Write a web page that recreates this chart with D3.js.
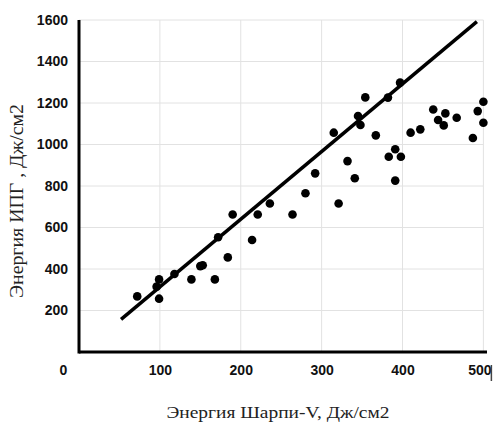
<!DOCTYPE html>
<html>
<head>
<meta charset="utf-8">
<script src="https://cdn.jsdelivr.net/npm/d3@7"></script>
<style>
  body { margin: 0; background: #fff; }
  .tick text { font-family: "Liberation Sans", Arial, sans-serif; font-weight: bold; font-size: 14px; fill: #111; }
  .title { font-family: "Liberation Serif", "Times New Roman", serif; fill: #222; }
</style>
</head>
<body>
<svg id="chart" width="494" height="427"></svg>
<script>
// Энергия Шарпи-V (x) и Энергия ИПГ (y)
const charpy = [72, 99, 96, 99, 118, 139, 150, 153, 168, 172, 184, 190, 214, 221, 236, 264, 280, 292,
    315, 321, 332, 341, 345, 348, 354, 367, 382, 397, 383, 391, 398, 391, 410, 422, 438, 444, 453, 451,
    467, 487, 493, 500, 500]
const ipg = [268, 350, 315, 257, 376, 350, 414, 418, 350, 553, 456, 663, 540, 663, 716, 663, 765, 861,
    1057, 716, 920, 837, 1137, 1094, 1227, 1044, 1226, 1298, 941, 977, 941, 826, 1057, 1073, 1169, 1118, 1150, 1092,
    1129, 1031, 1161, 1206, 1105]

// линия регрессии
const fitX = [52, 492]
const fitY = [157, 1592]

const xTicks = [0, 100, 200, 300, 400, 500]
const yTicks = [200, 400, 600, 800, 1000, 1200, 1400, 1600]

let margin = {
    top: 20,
    left: 79,
    right: 9,
    bottom: 75
};

let svg = d3.select("#chart");
let plotWidth = 494 - margin.left - margin.right;
let plotHeight = 427 - margin.top - margin.bottom;

let xScale = d3.scaleLinear()
    .domain([0, 502])
    .range([0, plotWidth]);

let yScale = d3.scaleLinear()
    .domain([0, 1600])
    .range([plotHeight, 0]);

let plot = svg.append("g")
    .attr("transform", "translate(" + margin.left + "," + margin.top + ")");

// сетка
plot.append("g")
    .selectAll("line")
    .data(yTicks)
    .enter().append("line")
    .attr("x1", 0)
    .attr("x2", xScale(500))
    .attr("y1", d => yScale(d))
    .attr("y2", d => yScale(d))
    .attr("stroke", "#e2e2e2");

plot.append("g")
    .selectAll("line")
    .data(xTicks.slice(1))
    .enter().append("line")
    .attr("x1", d => xScale(d))
    .attr("x2", d => xScale(d))
    .attr("y1", 0)
    .attr("y2", plotHeight)
    .attr("stroke", "#e2e2e2");

// оси
let xAxis = d3.axisBottom(xScale).tickValues(xTicks).tickSize(0).tickPadding(13).tickFormat(d3.format("d"));
let yAxis = d3.axisLeft(yScale).tickValues(yTicks).tickSize(0).tickPadding(11).tickFormat(d3.format("d"));

let xGroup = plot.append("g")
    .attr("transform", "translate(0," + plotHeight + ")")
    .call(xAxis);
xGroup.select(".domain").remove();
xGroup.selectAll(".tick text")
    .attr("dx", d => d === 0 ? -16 : (d === 500 ? -4 : 0));

let yGroup = plot.append("g").call(yAxis);
yGroup.select(".domain").remove();

plot.append("line")
    .attr("x1", 0).attr("x2", 0)
    .attr("y1", 0).attr("y2", plotHeight + 1.5)
    .attr("stroke", "#000").attr("stroke-width", 3);

plot.append("line")
    .attr("x1", 0).attr("x2", xScale(502) + 2)
    .attr("y1", plotHeight).attr("y2", plotHeight)
    .attr("stroke", "#000").attr("stroke-width", 3);

// маленькая черта после 500
plot.append("line")
    .attr("x1", xScale(500) + 8).attr("x2", xScale(500) + 8)
    .attr("y1", plotHeight + 13).attr("y2", plotHeight + 29)
    .attr("stroke", "#444").attr("stroke-width", 1.5);

// точки
plot.append("g")
    .selectAll("circle")
    .data(charpy)
    .enter().append("circle")
    .attr("cx", d => xScale(d))
    .attr("cy", (d, i) => yScale(ipg[i]))
    .attr("r", 4.3)
    .attr("fill", "#000");

// линия тренда
let line = d3.line()
    .x(d => xScale(d[0]))
    .y(d => yScale(d[1]));

plot.append("path")
    .datum(fitX.map((x, i) => [x, fitY[i]]))
    .attr("d", line)
    .attr("fill", "none")
    .attr("stroke", "#000")
    .attr("stroke-width", 3.5);

// подписи осей
svg.append("text")
    .attr("class", "title")
    .attr("x", 278)
    .attr("y", 418)
    .attr("text-anchor", "middle")
    .attr("font-size", 17)
    .attr("textLength", 223)
    .attr("lengthAdjust", "spacingAndGlyphs")
    .text("Энергия Шарпи-V, Дж/см2");

svg.append("text")
    .attr("class", "title")
    .attr("transform", "translate(23,201) rotate(-90)")
    .attr("text-anchor", "middle")
    .attr("font-size", 18)
    .attr("textLength", 194)
    .attr("lengthAdjust", "spacingAndGlyphs")
    .text("Энергия ИПГ , Дж/см2");
</script>
</body>
</html>
